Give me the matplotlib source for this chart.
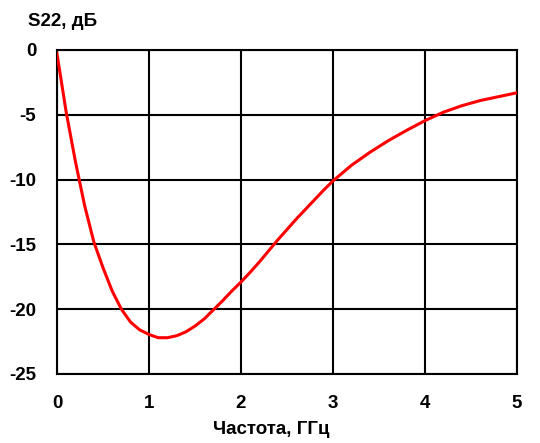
import numpy as np
import matplotlib
matplotlib.use('Agg')
import matplotlib.pyplot as plt

# S22 vs frequency
freq = [0, 0.1, 0.2, 0.3, 0.4, 0.5, 0.6, 0.7, 0.8, 0.9, 1.0, 1.1, 1.2, 1.3,
        1.4, 1.5, 1.6, 1.7, 1.8, 1.9, 2.0, 2.1, 2.2, 2.3, 2.4, 2.5, 2.6, 2.7,
        2.8, 2.9, 3.0, 3.2, 3.4, 3.6, 3.8, 4.0, 4.2, 4.4, 4.6, 4.8, 5.0]
s22 = [-0.3, -4.8, -8.6, -12.0, -14.8, -16.8, -18.6, -20.0, -21.0, -21.6,
       -21.95, -22.2, -22.2, -22.05, -21.75, -21.3, -20.75, -20.05, -19.35,
       -18.6, -17.9, -17.15, -16.35, -15.5, -14.65, -13.85, -13.05, -12.3,
       -11.55, -10.8, -10.1, -8.9, -7.9, -7.0, -6.2, -5.45, -4.8, -4.3,
       -3.9, -3.6, -3.3]
xticks = [0, 1, 2, 3, 4, 5]
yticks = [0, -5, -10, -15, -20, -25]

plt.rcParams['font.family'] = ['Liberation Sans', 'DejaVu Sans']
plt.rcParams['font.weight'] = 'bold'
plt.rcParams['axes.unicode_minus'] = False

fig = plt.figure(figsize=(5.4, 4.43), dpi=100)
ax = fig.add_axes([57/540, 1-374/443, 460/540, 324/443])

ax.plot(freq, s22, color='#ff0000', lw=2.2, zorder=3)

ax.set_xlim(0, 5)
ax.set_ylim(-25, 0)
ax.set_xticks(xticks)
ax.set_yticks(yticks)
ax.tick_params(length=0, labelsize=13.5, pad=15)
for lab in ax.get_xticklabels() + ax.get_yticklabels():
    lab.set_fontweight('bold')
ax.grid(True, color='black', lw=1.5)
for sp in ax.spines.values():
    sp.set_linewidth(1.5)
    sp.set_color('black')

fig.text(28/540, 1-22/443, 'S22, дБ', fontsize=13.5, fontweight='bold',
         ha='left', va='center')
fig.text(271/540, 1-430/443, 'Частота, ГГц', fontsize=13.5, fontweight='bold',
         ha='center', va='center')

fig.savefig('out.png', dpi=100)
